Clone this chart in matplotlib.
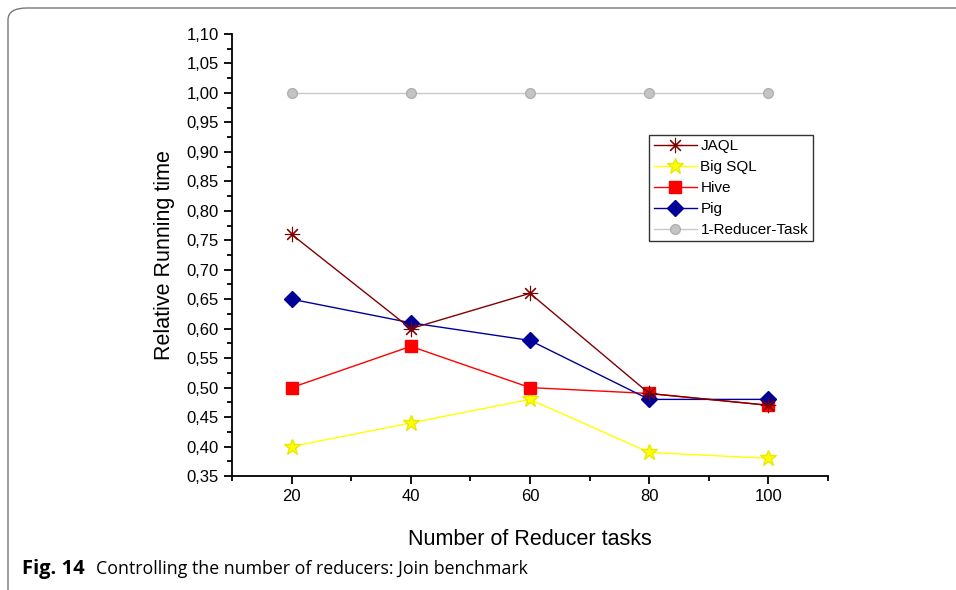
import matplotlib.pyplot as plt
from matplotlib.patches import FancyBboxPatch
from matplotlib.ticker import FuncFormatter, MultipleLocator

# === DATA ===
reducers = [20, 40, 60, 80, 100]
jaql = [0.76, 0.60, 0.66, 0.49, 0.47]
big_sql = [0.40, 0.44, 0.48, 0.39, 0.38]
hive = [0.50, 0.57, 0.50, 0.49, 0.47]
pig = [0.65, 0.61, 0.58, 0.48, 0.48]
one_reducer = [1.00, 1.00, 1.00, 1.00, 1.00]

plt.rcParams['font.family'] = ['Liberation Sans', 'DejaVu Sans']

fig = plt.figure(figsize=(9.56, 5.9), dpi=100)

# rounded frame around the figure
frame = FancyBboxPatch((8 / 956, -0.2), 1.2, 1.2 - 8 / 590,
                       boxstyle="round,pad=0,rounding_size=0.02",
                       transform=fig.transFigure, fill=False,
                       edgecolor='#777777', linewidth=1.0)
fig.patches.append(frame)

ax = fig.add_axes([232 / 956, 1 - 476 / 590, (828 - 232) / 956, (476 - 34) / 590])

ax.plot(reducers, one_reducer, color='#c8c8c8', linewidth=1.0, marker='o',
        markersize=7, markerfacecolor='#c4c4c4', markeredgecolor='#b0b0b0',
        label='1-Reducer-Task', zorder=2)
ax.plot(reducers, big_sql, color='#ffff00', linewidth=1.0, marker='*',
        markersize=12, markeredgecolor='#e8e800', label='Big SQL', zorder=3)
ax.plot(reducers, hive, color='#ff0000', linewidth=1.0, marker='s',
        markersize=8, label='Hive', zorder=4)
ax.plot(reducers, pig, color='#000099', linewidth=1.0, marker='D',
        markersize=8, label='Pig', zorder=5)
ax.plot(reducers, jaql, color='#800000', linewidth=1.0, marker=(8, 2, 0),
        markersize=11, markeredgewidth=0.8, label='JAQL', zorder=6)

ax.set_xlim(10, 110)
ax.set_ylim(0.35, 1.10)
ax.xaxis.set_major_locator(MultipleLocator(20))
ax.xaxis.set_minor_locator(MultipleLocator(10))
ax.yaxis.set_major_locator(MultipleLocator(0.05))
ax.yaxis.set_minor_locator(MultipleLocator(0.025))
ax.yaxis.set_major_formatter(FuncFormatter(lambda v, p: f'{v:.2f}'.replace('.', ',')))

for side in ['top', 'right']:
    ax.spines[side].set_visible(False)
for side in ['left', 'bottom']:
    ax.spines[side].set_linewidth(1.3)

ax.tick_params(which='major', direction='out', length=6, width=1.3, labelsize=12)
ax.tick_params(which='minor', direction='out', length=3.5, width=1.3)

ax.set_xlabel('Number of Reducer tasks', fontsize=15.5, labelpad=18)
ax.set_ylabel('Relative Running time', fontsize=15.5, labelpad=8)

handles, labels = ax.get_legend_handles_labels()
order = ['JAQL', 'Big SQL', 'Hive', 'Pig', '1-Reducer-Task']
hl = {l: h for h, l in zip(handles, labels)}
leg = ax.legend([hl[k] for k in order], order, loc='upper left',
                bbox_to_anchor=(0.70, 0.772), fontsize=11, frameon=True,
                fancybox=False, edgecolor='black', handlelength=2.8,
                borderpad=0.3, labelspacing=0.45, handletextpad=0.25,
                borderaxespad=0, markerscale=1.0)
leg.get_frame().set_linewidth(1.0)

fig.text(22 / 956, 1 - 569 / 590, 'Fig. 14', fontsize=14.5, fontweight='bold',
         family=['Open Sans', 'DejaVu Sans'], va='center', ha='left')
fig.text(96 / 956, 1 - 569 / 590, 'Controlling the number of reducers: Join benchmark',
         fontsize=12.8, family=['Open Sans', 'DejaVu Sans'], va='center', ha='left')

fig.savefig('out.png', dpi=100)
